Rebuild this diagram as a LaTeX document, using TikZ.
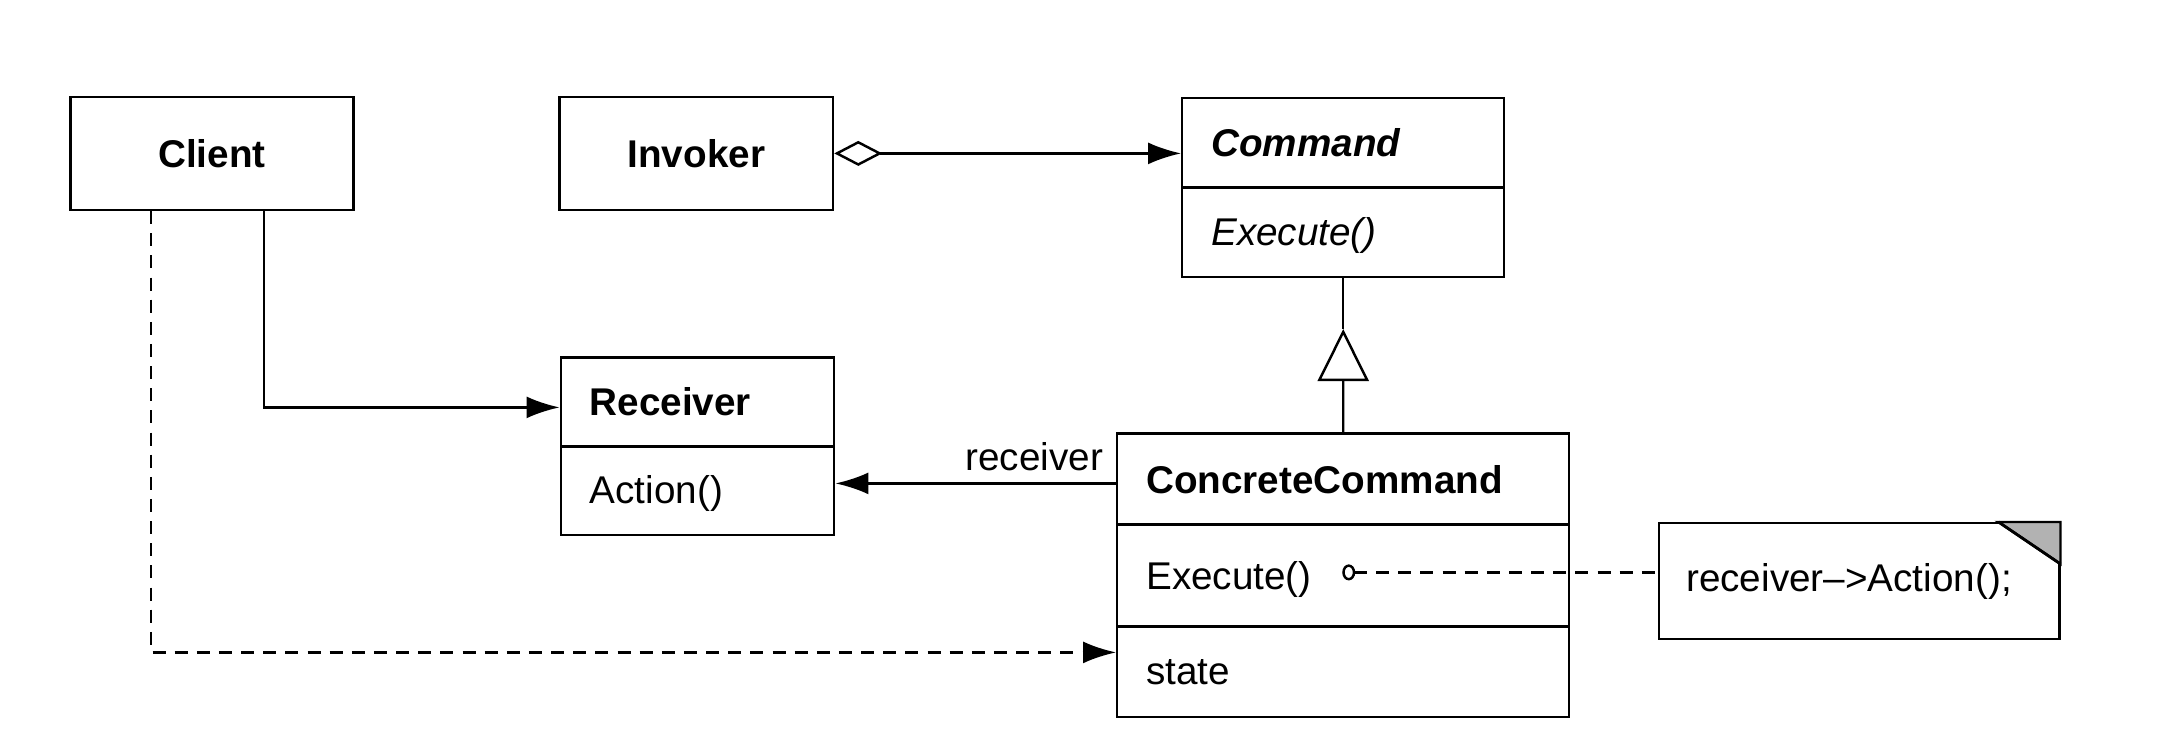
\documentclass[tikz,border=0pt]{standalone}
\usepackage{fontspec}
\setmainfont{Liberation Sans}
\usetikzlibrary{shapes.multipart,arrows.meta}
\newcommand{\slot}[2]{\rule[-#1]{0pt}{#2}}

\begin{document}
\begin{tikzpicture}[
        font=\fontsize{11pt}{13pt}\selectfont,
        line width=0.7pt,
        box/.style={rectangle, draw, minimum height=1.13cm, inner sep=0pt, font=\fontsize{11pt}{13pt}\selectfont\bfseries},
        umlclass/.style={rectangle split, rectangle split parts=#1, draw, align=left, anchor=north west, inner xsep=0.29cm, inner ysep=0pt},
        note/.style={rectangle, draw, anchor=north west, minimum width=4cm, minimum height=1.16cm, text width=3.46cm, align=left, inner xsep=0.27cm},
        assoc/.style={-{Latex[length=0.33cm,width=0.22cm]}},
        aggr/.style={{Diamond[open,length=0.48cm,width=0.25cm]}-{Latex[length=0.33cm,width=0.22cm]}},
        inherit/.style={-{Triangle[open,length=0.52cm,width=0.51cm]}},
        dep/.style={dash pattern=on 3.7pt off 2.6pt}
    ]
        \useasboundingbox (0,0) rectangle (21.66,-7.54);

        \node[box, minimum width=2.83cm] (Client) at (2.12, -1.534) {Client};
        \node[box, minimum width=2.735cm] (Invoker) at (6.963, -1.534) {Invoker};

        \node[umlclass=2, text width=2.64cm] (Command) at (11.81, -0.967)
            {\slot{0.3cm}{0.87cm}\textbf{\textit{Command}}\nodepart{two}\slot{0.3cm}{0.87cm}\textit{Execute()}};
        \node[umlclass=2, text width=2.155cm] (Receiver) at (5.595, -3.564)
            {\slot{0.3cm}{0.863cm}\textbf{Receiver}\nodepart{two}\slot{0.3cm}{0.863cm}Action()};
        \node[umlclass=3, text width=3.94cm] (Concrete) at (11.16, -4.324)
            {\slot{0.3cm}{0.885cm}\textbf{ConcreteCommand}\nodepart{two}\slot{0.36cm}{0.995cm}Execute()\nodepart{three}\slot{0.31cm}{0.88cm}state};

        \node[note] (Note) at (16.58, -5.22) {receiver\textendash{}>Action();};
        \filldraw[fill=gray!60] ([xshift=-0.62cm]Note.north east) -- (Note.north east) -- ([yshift=-0.42cm]Note.north east) -- cycle;
        \draw[thick] ([xshift=-0.62cm]Note.north east) -- ([yshift=-0.42cm]Note.north east);

        \coordinate (apex) at ([yshift=-0.51cm]Command.south);
        \coordinate (exec) at ([shift={(-0.01,-1.4)}]Concrete.north);

        \draw[aggr] (Invoker.east) -- (Invoker.east -| Command.west);
        \draw (Command.south) -- (apex);
        \draw[inherit] (Concrete.north) -- (apex);
        \draw[assoc] ([xshift=0.52cm]Client.south) |- ([yshift=-0.51cm]Receiver.north west);
        \draw[assoc] ([yshift=-0.51cm]Concrete.north west) -- ([yshift=-0.51cm]Concrete.north west -| Receiver.east)
            node[pos=0, above left] {receiver};
        \draw[assoc, dep] ([xshift=-0.61cm]Client.south) |- ([yshift=-2.2cm]Concrete.north west);
        \draw[{Circle[open,length=1.3mm,width=1.6mm]}-, dep] (exec) -- (exec -| Note.west);
    \end{tikzpicture}
\end{document}
